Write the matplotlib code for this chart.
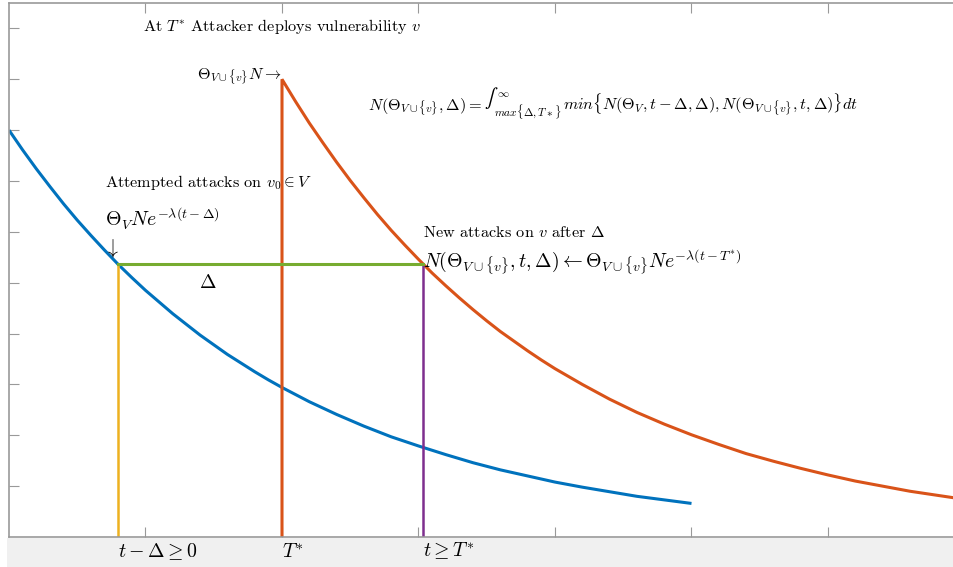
#!/usr/bin/env python3
"""Sketch of attack decay: existing vulnerabilities vs newly deployed one."""

import matplotlib
matplotlib.use('Agg')
import matplotlib.pyplot as plt
from matplotlib.patches import Rectangle

plt.rcParams['mathtext.fontset'] = 'cm'
plt.rcParams['font.family'] = 'serif'
plt.rcParams['font.serif'] = ['cmr10', 'DejaVu Serif']
plt.rcParams['axes.formatter.use_mathtext'] = True

# Attempted attacks on existing vulnerabilities (blue)
t_old = [0.0, 0.1, 0.2, 0.3, 0.4, 0.5, 0.6, 0.7, 0.8, 0.9,
         1.0, 1.1, 1.2, 1.3, 1.4, 1.5, 1.6, 1.7, 1.8, 1.9,
         2.0, 2.2, 2.4, 2.6, 2.8, 3.0, 3.2, 3.4, 3.6, 3.8,
         4.0, 4.2, 4.4, 4.6, 4.8, 5.0]
n_old = [0.800, 0.761, 0.724, 0.689, 0.655, 0.623, 0.593, 0.564, 0.536, 0.510,
         0.485, 0.462, 0.439, 0.418, 0.397, 0.378, 0.359, 0.342, 0.325, 0.309,
         0.294, 0.266, 0.241, 0.218, 0.197, 0.179, 0.162, 0.146, 0.132, 0.120,
         0.108, 0.098, 0.089, 0.080, 0.073, 0.066]

# New attacks after the vulnerability is deployed at T* (orange)
t_new = [2.0, 2.0, 2.1, 2.2, 2.3, 2.4, 2.5, 2.6, 2.7, 2.8, 2.9,
         3.0, 3.1, 3.2, 3.3, 3.4, 3.5, 3.6, 3.7, 3.8, 3.9,
         4.0, 4.2, 4.4, 4.6, 4.8, 5.0, 5.2, 5.4, 5.6, 5.8,
         6.0, 6.2, 6.4, 6.6, 6.8, 7.0]
n_new = [0.0, 0.900, 0.856, 0.814, 0.775, 0.737, 0.701, 0.667, 0.634, 0.603, 0.574,
         0.546, 0.519, 0.494, 0.470, 0.447, 0.425, 0.404, 0.385, 0.366, 0.348,
         0.331, 0.300, 0.271, 0.245, 0.222, 0.201, 0.182, 0.164, 0.149, 0.135,
         0.122, 0.110, 0.100, 0.090, 0.082, 0.074]

# Marker lines
t_minus_delta = 0.8
t_star = 2.0
t_now = 3.03
level = 0.536

x_ticks = [1, 2, 3, 4, 5, 6]
y_ticks = [0.1, 0.2, 0.3, 0.4, 0.5, 0.6, 0.7, 0.8, 0.9, 1.0]

BLUE = '#0072BD'
ORANGE = '#D95319'
YELLOW = '#EDB120'
PURPLE = '#7E2F8E'
GREEN = '#77AC30'

W, H = 954, 567
fig = plt.figure(figsize=(W / 100, H / 100), dpi=100, facecolor='white')
fig.patches.append(Rectangle((7 / W, 0), 1, (H - 538) / H, transform=fig.transFigure,
                             facecolor='#f0f0f0', edgecolor='none', zorder=-10))
ax = fig.add_axes([9 / W, (H - 537) / H, 955.5 / W, 534 / H])

ax.plot(t_old, n_old, color=BLUE, lw=2.2, solid_capstyle='butt')
ax.plot(t_new, n_new, color=ORANGE, lw=2.2, solid_joinstyle='miter')
ax.plot([t_minus_delta, t_minus_delta], [0, level], color=YELLOW, lw=1.8)
ax.plot([t_now, t_now], [0, level], color=PURPLE, lw=1.8)
ax.plot([t_minus_delta, t_now], [level, level], color=GREEN, lw=2.2)

ax.set_xlim(0, 7)
ax.set_ylim(0, 1.05)
ax.set_xticks(x_ticks)
ax.set_yticks(y_ticks)
ax.tick_params(direction='in', length=7, width=0.8, color='#999999',
               top=True, right=True, labelbottom=False, labelleft=False)
for sp in ax.spines.values():
    sp.set_color('#999999')
    sp.set_linewidth(1.2)

small = 11.7
big = 14.3
ax.text(0.98, 1.004, r'At $T^{*}$ Attacker deploys vulnerability $v$',
        fontsize=small, va='center', ha='left')
ax.text(2.0, 0.905, r'$\Theta_{V\cup\{v\}}N \rightarrow$',
        fontsize=small, va='center', ha='right')

# integral formula, built from pieces so the limits sit beside a small integral sign
base = 0.8386
ax.text(2.63, base, r'$N(\Theta_{V\cup\{v\}},\Delta) =$',
        fontsize=small, va='baseline', ha='left')
ax.text(3.48, 0.862, '\u222b', family='STIXGeneral', fontsize=14,
        va='center', ha='left')
ax.text(3.575, 0.871, r'$\infty$', fontsize=8.2, va='center', ha='left')
ax.text(3.555, 0.836, r'$max\{\Delta,T*\}$', fontsize=8.2, va='center', ha='left')
ax.text(4.06, base,
        r'$min\{N(\Theta_V,t-\Delta,\Delta), N(\Theta_{V\cup\{v\}},t,\Delta)\}dt$',
        fontsize=small, va='baseline', ha='left')

ax.text(0.703, 0.697, r'Attempted attacks on $v_0 \in V$',
        fontsize=small, va='center', ha='left')
ax.text(0.703, 0.625, r'$\Theta_V N e^{-\lambda(t-\Delta)}$',
        fontsize=big, va='center', ha='left')
ax.text(0.695, 0.568, r'$\downarrow$', fontsize=big, va='center', ha='left')
ax.text(3.03, 0.598, r'New attacks on $v$ after $\Delta$',
        fontsize=small, va='center', ha='left')
ax.text(3.03, 0.541,
        r'$N(\Theta_{V\cup\{v\}},t,\Delta) \leftarrow \Theta_{V\cup\{v\}}Ne^{-\lambda(t-T^{*})}$',
        fontsize=big, va='center', ha='left')
ax.text(1.46, 0.5, r'$\Delta$', fontsize=big, va='center', ha='center')

# labels under the axis, aligned with the marker lines
ax.text(t_minus_delta, -0.028, r'$t-\Delta \geq 0$', fontsize=big,
        va='center', ha='left', clip_on=False)
ax.text(t_star, -0.03, r'$T^{*}$', fontsize=big, va='center', ha='left', clip_on=False)
ax.text(t_now, -0.028, r'$t \geq T^{*}$', fontsize=big, va='center', ha='left', clip_on=False)

fig.savefig('out.png', dpi=100)
plt.close(fig)
